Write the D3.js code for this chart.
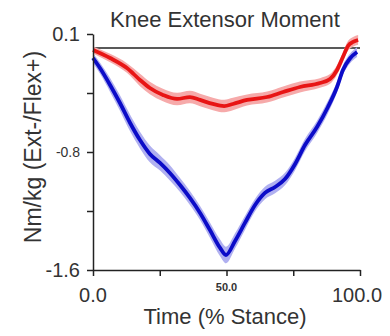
<!DOCTYPE html>
<html><head><meta charset="utf-8">
<script src="https://cdn.jsdelivr.net/npm/d3@7"></script>
<style>body{margin:0;background:#fff}svg{display:block}</style>
</head><body>
<script>
const title = "Knee Extensor Moment";
const xLabel = "Time (% Stance)";
const yLabel = "Nm/kg (Ext-/Flex+)";
const yTicks = [0.1, -0.325, -0.75, -1.175, -1.6];
const yTickLabels = ["0.1", "", "-0.8", "", "-1.6"];
const xTicks = [0, 25, 50, 75, 100];
const xTickLabels = ["0.0", "", "50.0", "", "100.0"];

const bluePct = [0, 2.6, 6.4, 10.1, 13.9, 17.6, 21.3, 25.1, 28.8, 32.6, 36.3, 40.1, 43.8, 47.6, 49.8, 53.2, 56.9, 60.7, 64.4, 68.2, 71.9, 75.7, 79.4, 83.9, 88.0, 91.4, 93.6, 96.3, 98.9];
const blueMean = [-0.073, -0.145, -0.267, -0.397, -0.541, -0.664, -0.764, -0.829, -0.901, -0.988, -1.081, -1.189, -1.312, -1.441, -1.492, -1.391, -1.261, -1.132, -1.045, -1.002, -0.945, -0.836, -0.700, -0.570, -0.426, -0.282, -0.160, -0.075, -0.030];
const blueSd = [0.035, 0.04, 0.05, 0.055, 0.06, 0.06, 0.06, 0.055, 0.055, 0.05, 0.05, 0.05, 0.055, 0.06, 0.06, 0.055, 0.05, 0.045, 0.045, 0.045, 0.045, 0.045, 0.045, 0.045, 0.045, 0.04, 0.035, 0.035, 0.035];

const redPct = [0, 6.4, 12.7, 17.6, 21.3, 26.2, 31.5, 36.3, 40.1, 44.9, 49.1, 52.4, 57.7, 65.2, 71.2, 77.5, 85.0, 88.8, 91.4, 93.6, 95.5, 97.4, 99.3];
const redMean = [-0.015, -0.073, -0.145, -0.231, -0.289, -0.339, -0.368, -0.354, -0.375, -0.404, -0.419, -0.404, -0.375, -0.354, -0.318, -0.282, -0.253, -0.224, -0.159, -0.066, 0.014, 0.043, 0.057];
const redSd = [0.025, 0.03, 0.035, 0.045, 0.045, 0.045, 0.045, 0.045, 0.045, 0.045, 0.045, 0.045, 0.04, 0.04, 0.04, 0.04, 0.035, 0.035, 0.035, 0.035, 0.035, 0.035, 0.035];

const W = 390, H = 336;
const svg = d3.select("body").append("svg").attr("width", W).attr("height", H);
const x = d3.scaleLinear().domain([0, 100]).range([93, 360]);
const y = d3.scaleLinear().domain([-1.6, 0.1]).range([270, 34]);
const font = "Arial, 'Liberation Sans', sans-serif";
const txt = "#333";

function series(pct, mean, sd, band, line) {
  const d = pct.map((p, i) => ({p, m: mean[i], s: sd[i]}));
  svg.append("path").datum(d)
    .attr("d", d3.area().x(e => x(e.p)).y0(e => y(e.m - e.s)).y1(e => y(e.m + e.s)).curve(d3.curveMonotoneX))
    .attr("fill", band).attr("stroke", "none");
  svg.append("path").datum(d)
    .attr("d", d3.line().x(e => x(e.p)).y(e => y(e.m)).curve(d3.curveMonotoneX))
    .attr("fill", "none").attr("stroke", line).attr("stroke-width", 3.8).attr("stroke-linejoin", "round");
}

// zero line
svg.append("line").attr("x1", x(0)).attr("x2", x(100)).attr("y1", y(0)).attr("y2", y(0))
  .attr("stroke", "#222").attr("stroke-width", 1.5);

series(bluePct, blueMean, blueSd, "#b0b0f0", "#0c0cc8");
series(redPct, redMean, redSd, "#f6aaaa", "#e81515");

// axes
const yAxis = svg.append("g").attr("transform", `translate(${x(0)},0)`)
  .call(d3.axisLeft(y).tickValues(yTicks).tickSize(6).tickSizeOuter(0).tickFormat(""));
const xAxis = svg.append("g").attr("transform", `translate(0,${y(-1.6)})`)
  .call(d3.axisBottom(x).tickValues(xTicks).tickSize(6).tickSizeOuter(0).tickFormat(""));
[yAxis, xAxis].forEach(g => {
  g.select(".domain").attr("stroke", "#222").attr("stroke-width", 1.5);
  g.selectAll(".tick line").attr("stroke", "#222").attr("stroke-width", 1.5);
});

const ySizes = [20, 0, 14, 0, 20];
yTicks.forEach((v, i) => {
  if (!yTickLabels[i]) return;
  svg.append("text").attr("x", 80).attr("y", y(v)).attr("dy", "0.35em")
    .attr("text-anchor", "end").attr("font-family", font).attr("font-size", ySizes[i])
    .attr("fill", txt).text(yTickLabels[i]);
});
const xSizes = [20, 0, 11, 0, 20];
const xDy = [302, 0, 291, 0, 302];
xTicks.forEach((v, i) => {
  if (!xTickLabels[i]) return;
  svg.append("text").attr("x", x(v) - (i === 4 ? 3 : 0)).attr("y", xDy[i])
    .attr("text-anchor", "middle").attr("font-family", font).attr("font-size", xSizes[i])
    .attr("font-weight", i === 2 ? "bold" : "normal")
    .attr("fill", txt).text(xTickLabels[i]);
});

svg.append("text").attr("x", 225).attr("y", 27).attr("text-anchor", "middle")
  .attr("font-family", font).attr("font-size", 22).attr("fill", txt).text(title);
svg.append("text").attr("x", 225).attr("y", 324).attr("text-anchor", "middle")
  .attr("font-family", font).attr("font-size", 22).attr("fill", txt).text(xLabel);
svg.append("text").attr("transform", "translate(41,147) rotate(-90)").attr("text-anchor", "middle")
  .attr("font-family", font).attr("font-size", 23).attr("fill", txt).text(yLabel);
</script>
</body></html>
